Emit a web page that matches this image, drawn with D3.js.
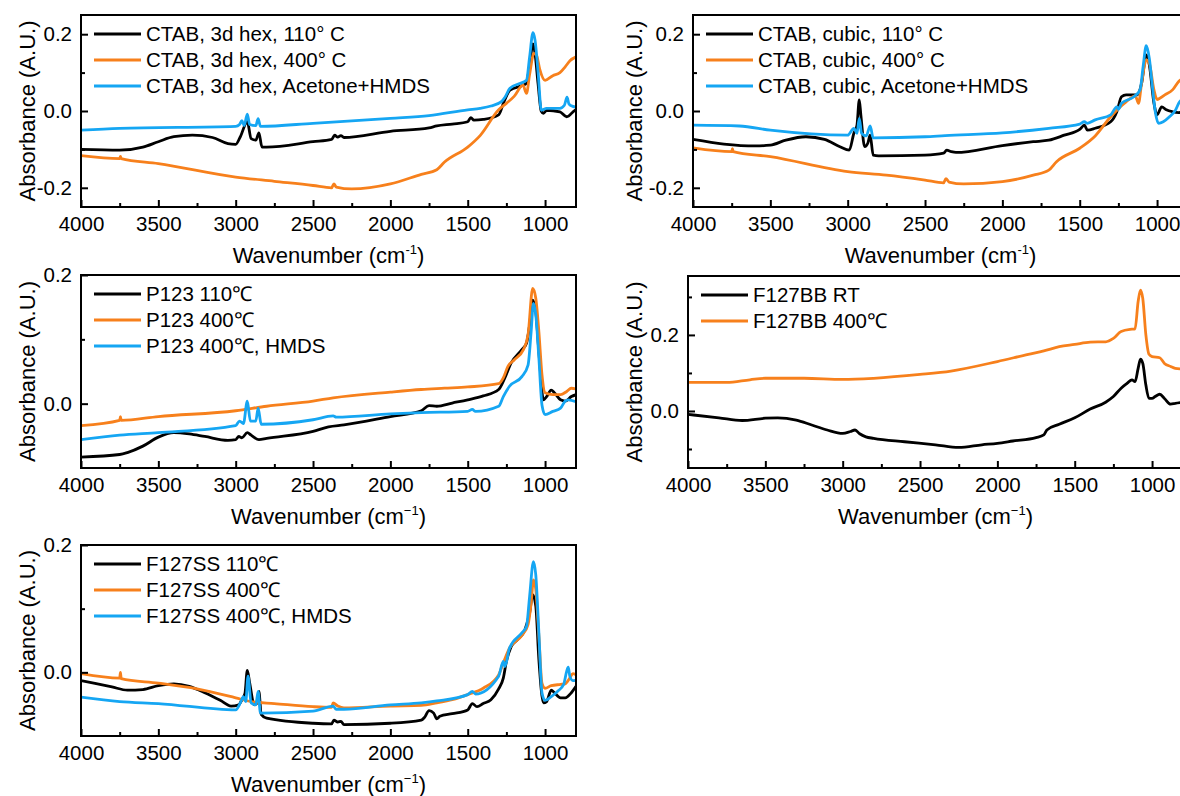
<!DOCTYPE html>
<html lang="en">
  <head>
    <meta charset="UTF-8" />
    <title>FTIR spectra</title>
    <script src="https://d3js.org/d3.v7.min.js"></script>
    <style>
      body { margin: 0; background: #fff; }
      svg { display: block; }
    </style>
  </head>
  <body>
    <svg id="chart" width="1180" height="796"></svg>
    <script>
      // [wavenumber (cm-1), absorbance (A.U.)]
      const hex110 = [[4000,-0.100],[3750,-0.102],[3600,-0.094],[3500,-0.080],[3400,-0.067],[3280,-0.063],[3150,-0.069],[3050,-0.085],[3000,-0.087],[2970,-0.067],[2925,-0.028],[2900,-0.072],[2870,-0.076],[2850,-0.057],[2830,-0.094],[2800,-0.094],[2500,-0.080],[2380,-0.074],[2360,-0.063],[2340,-0.068],[2320,-0.064],[2300,-0.069],[2000,-0.053],[1750,-0.044],[1700,-0.039],[1600,-0.034],[1500,-0.028],[1480,-0.017],[1460,-0.024],[1400,-0.022],[1300,-0.010],[1265,0.025],[1227,0.054],[1143,0.067],[1120,0.072],[1100,0.120],[1078,0.175],[1065,0.150],[1045,0.070],[1025,0.000],[1010,-0.006],[990,0.002],[904,-0.002],[860,-0.015],[806,0.002],[800,0.003]];
      const hex400 = [[4000,-0.116],[3750,-0.124],[3745,-0.118],[3740,-0.124],[3500,-0.137],[3000,-0.172],[2750,-0.183],[2500,-0.194],[2380,-0.200],[2365,-0.190],[2350,-0.198],[2250,-0.203],[2000,-0.190],[1800,-0.165],[1700,-0.153],[1650,-0.133],[1500,-0.094],[1420,-0.064],[1300,0.003],[1250,0.020],[1200,0.038],[1143,0.067],[1120,0.046],[1100,0.095],[1072,0.150],[1055,0.145],[1035,0.110],[1000,0.080],[950,0.092],[904,0.100],[870,0.115],[839,0.131],[800,0.141]];
      const hexHmds = [[4000,-0.050],[3750,-0.045],[3000,-0.040],[2975,-0.035],[2960,-0.025],[2945,-0.038],[2925,-0.008],[2910,-0.035],[2870,-0.038],[2855,-0.020],[2840,-0.040],[2500,-0.032],[2000,-0.019],[1750,-0.012],[1500,0.003],[1420,0.007],[1350,0.013],[1280,0.025],[1259,0.036],[1227,0.059],[1143,0.075],[1120,0.080],[1100,0.140],[1078,0.204],[1065,0.185],[1045,0.100],[1024,0.002],[990,0.007],[904,0.007],[875,0.015],[858,0.036],[845,0.018],[820,0.012],[800,0.010]];

      const cub110 = [[4000,-0.074],[3800,-0.086],[3600,-0.091],[3500,-0.089],[3400,-0.076],[3270,-0.067],[3150,-0.074],[3050,-0.093],[2990,-0.102],[2960,-0.058],[2940,-0.037],[2925,0.029],[2915,-0.010],[2890,-0.093],[2870,-0.084],[2855,-0.063],[2835,-0.115],[2800,-0.117],[2500,-0.115],[2380,-0.110],[2360,-0.102],[2330,-0.106],[2300,-0.108],[2000,-0.090],[1800,-0.080],[1700,-0.076],[1600,-0.063],[1500,-0.048],[1470,-0.037],[1450,-0.050],[1400,-0.045],[1300,-0.028],[1260,-0.002],[1230,0.037],[1200,0.042],[1130,0.042],[1100,0.072],[1070,0.146],[1050,0.120],[1020,0.020],[1000,-0.010],[970,0.011],[940,0.003],[900,-0.002],[860,-0.004],[800,0.000]];
      const cub400 = [[4000,-0.096],[3750,-0.106],[3745,-0.098],[3740,-0.106],[3500,-0.119],[3000,-0.158],[2750,-0.167],[2500,-0.180],[2380,-0.187],[2365,-0.176],[2345,-0.185],[2250,-0.190],[2000,-0.184],[1800,-0.167],[1700,-0.154],[1650,-0.132],[1500,-0.097],[1400,-0.065],[1300,-0.015],[1200,0.024],[1140,0.039],[1120,0.020],[1100,0.072],[1070,0.133],[1050,0.124],[1020,0.055],[1000,0.030],[950,0.042],[900,0.055],[860,0.077],[800,0.090]];
      const cubHmds = [[4000,-0.037],[3700,-0.039],[3500,-0.050],[3000,-0.063],[2960,-0.045],[2940,-0.058],[2925,-0.019],[2910,-0.058],[2880,-0.065],[2855,-0.039],[2835,-0.070],[2500,-0.067],[2370,-0.064],[2000,-0.057],[1700,-0.045],[1500,-0.034],[1470,-0.028],[1450,-0.032],[1400,-0.023],[1300,-0.010],[1260,0.011],[1250,0.004],[1230,0.020],[1150,0.037],[1110,0.055],[1090,0.116],[1070,0.170],[1050,0.137],[1030,0.063],[1010,-0.006],[990,-0.032],[960,-0.028],[920,-0.015],[880,0.003],[860,0.020],[800,0.040]];

      const p123_110 = [[4000,-0.083],[3750,-0.079],[3700,-0.076],[3600,-0.066],[3500,-0.052],[3400,-0.045],[3300,-0.047],[3200,-0.051],[3050,-0.057],[3000,-0.056],[2980,-0.051],[2960,-0.053],[2925,-0.045],[2900,-0.049],[2850,-0.056],[2800,-0.054],[2500,-0.043],[2400,-0.036],[2300,-0.033],[2000,-0.020],[1800,-0.011],[1750,-0.003],[1700,-0.004],[1600,0.001],[1500,0.006],[1400,0.012],[1300,0.022],[1260,0.040],[1220,0.063],[1150,0.084],[1120,0.094],[1100,0.122],[1080,0.161],[1060,0.143],[1040,0.081],[1010,0.006],[990,0.011],[960,0.021],[940,0.017],[900,0.006],[870,0.004],[830,0.011],[800,0.014]];
      const p123_400 = [[4000,-0.034],[3750,-0.026],[3745,-0.020],[3740,-0.026],[3500,-0.020],[3000,-0.011],[2800,-0.004],[2500,0.004],[2370,0.009],[2000,0.018],[1800,0.022],[1650,0.024],[1500,0.026],[1300,0.031],[1270,0.040],[1240,0.058],[1200,0.068],[1140,0.084],[1110,0.107],[1080,0.179],[1060,0.164],[1040,0.112],[1020,0.045],[1000,0.017],[950,0.014],[900,0.014],[860,0.019],[830,0.024],[800,0.023]];
      const p123_hmds = [[4000,-0.056],[3750,-0.049],[3500,-0.045],[3000,-0.034],[2975,-0.027],[2950,-0.031],[2925,0.004],[2905,-0.027],[2870,-0.027],[2855,-0.007],[2835,-0.032],[2500,-0.025],[2370,-0.019],[2350,-0.021],[2000,-0.016],[1800,-0.014],[1500,-0.012],[1470,-0.009],[1450,-0.012],[1300,-0.004],[1270,0.011],[1230,0.027],[1150,0.042],[1110,0.060],[1090,0.112],[1075,0.156],[1060,0.138],[1040,0.071],[1020,-0.002],[1000,-0.017],[950,-0.012],[900,-0.007],[870,0.004],[850,0.006],[800,0.003]];

      const bbRT = [[4000,-0.009],[3800,-0.018],[3650,-0.025],[3500,-0.019],[3420,-0.018],[3300,-0.024],[3200,-0.037],[3100,-0.050],[3000,-0.059],[2950,-0.054],[2920,-0.050],[2890,-0.060],[2850,-0.068],[2800,-0.072],[2600,-0.081],[2400,-0.089],[2250,-0.096],[2100,-0.089],[2000,-0.085],[1900,-0.079],[1750,-0.070],[1700,-0.063],[1680,-0.050],[1600,-0.035],[1500,-0.018],[1400,0.005],[1300,0.023],[1250,0.038],[1200,0.060],[1160,0.073],[1130,0.082],[1110,0.077],[1090,0.112],[1075,0.136],[1060,0.125],[1040,0.068],[1020,0.033],[1000,0.033],[980,0.038],[950,0.044],[920,0.033],[880,0.018],[850,0.020],[800,0.023]];
      const bb400 = [[4000,0.075],[3750,0.075],[3600,0.082],[3500,0.086],[3250,0.086],[3000,0.083],[2800,0.086],[2500,0.096],[2300,0.105],[2000,0.130],[1800,0.149],[1700,0.158],[1600,0.169],[1500,0.175],[1400,0.181],[1300,0.182],[1250,0.191],[1200,0.209],[1130,0.215],[1110,0.216],[1090,0.288],[1075,0.318],[1060,0.296],[1040,0.200],[1020,0.149],[1000,0.143],[950,0.140],[920,0.125],[880,0.117],[850,0.112],[800,0.110]];

      const ss110 = [[4000,-0.013],[3800,-0.023],[3700,-0.028],[3600,-0.027],[3500,-0.021],[3400,-0.018],[3300,-0.022],[3200,-0.032],[3100,-0.044],[3030,-0.053],[2980,-0.051],[2960,-0.043],[2940,-0.033],[2925,0.003],[2910,-0.016],[2880,-0.051],[2860,-0.048],[2850,-0.030],[2835,-0.066],[2800,-0.072],[2500,-0.080],[2380,-0.081],[2365,-0.075],[2340,-0.078],[2320,-0.077],[2300,-0.082],[2000,-0.080],[1800,-0.075],[1780,-0.071],[1750,-0.060],[1720,-0.064],[1700,-0.073],[1680,-0.069],[1600,-0.065],[1500,-0.059],[1470,-0.049],[1440,-0.054],[1400,-0.049],[1350,-0.043],[1300,-0.026],[1270,-0.009],[1250,0.017],[1220,0.040],[1180,0.051],[1130,0.067],[1100,0.093],[1080,0.122],[1060,0.104],[1040,0.020],[1010,-0.048],[990,-0.046],[960,-0.028],[940,-0.032],[900,-0.040],[870,-0.040],[830,-0.032],[800,-0.022]];
      const ss400 = [[4000,-0.002],[3750,-0.009],[3745,0.000],[3740,-0.010],[3500,-0.017],[3250,-0.026],[3000,-0.040],[2900,-0.046],[2750,-0.049],[2500,-0.054],[2380,-0.055],[2370,-0.048],[2340,-0.053],[2300,-0.056],[2000,-0.053],[1800,-0.052],[1700,-0.048],[1600,-0.043],[1500,-0.035],[1400,-0.025],[1300,-0.004],[1270,0.015],[1230,0.038],[1150,0.058],[1110,0.075],[1090,0.109],[1075,0.145],[1060,0.130],[1040,0.057],[1020,-0.017],[1000,-0.025],[960,-0.021],[900,-0.019],[870,-0.018],[840,-0.009],[820,-0.002],[800,-0.004]];
      const ssHmds = [[4000,-0.039],[3750,-0.046],[3500,-0.049],[3000,-0.059],[2970,-0.048],[2950,-0.038],[2935,-0.046],[2920,-0.006],[2900,-0.048],[2870,-0.051],[2855,-0.030],[2840,-0.064],[2500,-0.061],[2370,-0.053],[2350,-0.058],[2300,-0.058],[2000,-0.051],[1800,-0.048],[1700,-0.045],[1500,-0.035],[1470,-0.030],[1450,-0.034],[1300,-0.006],[1270,0.017],[1260,0.009],[1230,0.038],[1150,0.062],[1120,0.072],[1100,0.119],[1075,0.174],[1060,0.153],[1040,0.062],[1020,-0.032],[1000,-0.044],[960,-0.038],[920,-0.030],[880,-0.019],[860,0.002],[850,0.008],[840,-0.006],[820,-0.013],[800,-0.012]];

      const hexLabels = ["CTAB, 3d hex, 110° C", "CTAB, 3d hex, 400° C", "CTAB, 3d hex, Acetone+HMDS"];
      const cubLabels = ["CTAB, cubic, 110° C", "CTAB, cubic, 400° C", "CTAB, cubic, Acetone+HMDS"];
      const p123Labels = ["P123 110\u2103", "P123 400\u2103", "P123 400\u2103, HMDS"];
      const bbLabels = ["F127BB RT", "F127BB 400\u2103"];
      const ssLabels = ["F127SS 110\u2103", "F127SS 400\u2103", "F127SS 400\u2103, HMDS"];

      const xDomain = [4000, 800];
      const xMajor = [4000, 3500, 3000, 2500, 2000, 1500, 1000];
      const xMinor = [3750, 3250, 2750, 2250, 1750, 1250];

      const font = '"Liberation Sans", Arial, Helvetica, sans-serif';
      const black = "#000000", orange = "#f7801c", blue = "#15a6f3";

      const panels = [
        { x: 81, y: 15, w: 495, h: 192, yDomain: [-0.25, 0.25], yMajor: [-0.2, 0, 0.2], yMinor: [-0.1, 0.1],
          titleX: 27, sup: "-1", series: [hex110, hex400, hexHmds], labels: hexLabels },
        { x: 693, y: 15, w: 495, h: 192, yDomain: [-0.25, 0.25], yMajor: [-0.2, 0, 0.2], yMinor: [-0.1, 0.1],
          titleX: 634, sup: "-1", series: [cub110, cub400, cubHmds], labels: cubLabels },
        { x: 81, y: 275, w: 495, h: 193, yDomain: [-0.1, 0.2], yMajor: [0, 0.2], yMinor: [0.1],
          titleX: 27, sup: "\u22121", series: [p123_110, p123_400, p123_hmds], labels: p123Labels },
        { x: 688, y: 276, w: 495, h: 192, yDomain: [-0.15, 0.355], yMajor: [0, 0.2], yMinor: [-0.1, 0.1, 0.3],
          titleX: 634, sup: "\u22121", series: [bbRT, bb400], labels: bbLabels },
        { x: 81, y: 545, w: 495, h: 191, yDomain: [-0.1, 0.2], yMajor: [0, 0.2], yMinor: [0.1],
          titleX: 27, sup: "\u22121", series: [ss110, ss400, ssHmds], labels: ssLabels },
      ];
      const colors = [black, orange, blue];

      const svg = d3.select("#chart");

      panels.forEach((p, i) => {
        const g = svg.append("g").attr("transform", `translate(${p.x},${p.y})`);
        const x = d3.scaleLinear().domain(xDomain).range([0, p.w]);
        const y = d3.scaleLinear().domain(p.yDomain).range([p.h, 0]);

        g.append("clipPath").attr("id", "clip" + i)
          .append("rect").attr("width", p.w).attr("height", p.h);

        const line = d3.line()
          .x((d) => x(d[0]))
          .y((d) => y(d[1]))
          .curve(d3.curveMonotoneX);

        const plot = g.append("g").attr("clip-path", `url(#clip${i})`);
        p.series.forEach((s, k) => {
          plot.append("path")
            .datum(s)
            .attr("fill", "none")
            .attr("stroke", colors[k])
            .attr("stroke-width", 2.8)
            .attr("stroke-linejoin", "round")
            .attr("d", line);
        });

        // axes, ticks pointing inward
        g.append("g").attr("transform", `translate(0,${p.h})`)
          .call(d3.axisBottom(x).tickValues(xMajor).tickSize(-7).tickPadding(9).tickFormat(d3.format("d")));
        g.append("g").attr("transform", `translate(0,${p.h})`)
          .call(d3.axisBottom(x).tickValues(xMinor).tickSize(-4).tickFormat(""));
        g.append("g")
          .call(d3.axisLeft(y).tickValues(p.yMajor).tickSize(-7).tickPadding(9).tickFormat((d) => d.toFixed(1)));
        g.append("g")
          .call(d3.axisLeft(y).tickValues(p.yMinor).tickSize(-4).tickFormat(""));

        g.selectAll(".domain").remove();
        g.selectAll(".tick line").attr("stroke", "#000").attr("stroke-width", 2);
        g.selectAll(".tick text").attr("fill", "#000").style("font-family", font).style("font-size", "20.5px");

        g.append("rect")
          .attr("width", p.w).attr("height", p.h)
          .attr("fill", "none").attr("stroke", "#000").attr("stroke-width", 2);

        // legend
        p.labels.forEach((lab, k) => {
          const ly = [19, 45, 71][k];
          g.append("line")
            .attr("x1", 13).attr("x2", 60).attr("y1", ly).attr("y2", ly)
            .attr("stroke", colors[k]).attr("stroke-width", 2.8);
          g.append("text")
            .attr("x", 65).attr("y", ly).attr("dy", "0.35em")
            .style("font-family", font).style("font-size", "20.5px")
            .text(lab);
        });

        // axis titles
        const xt = g.append("text")
          .attr("x", p.w / 2).attr("y", p.h + 56)
          .attr("text-anchor", "middle")
          .style("font-family", font).style("font-size", "22px");
        xt.append("tspan").text("Wavenumber (cm");
        xt.append("tspan").attr("dy", -9).style("font-size", "13px").text(p.sup);
        xt.append("tspan").attr("dy", 9).text(")");

        svg.append("text")
          .attr("transform", `translate(${p.titleX},${p.y + p.h / 2}) rotate(-90)`)
          .attr("text-anchor", "middle").attr("dy", "0.35em")
          .style("font-family", font).style("font-size", "22px")
          .text("Absorbance (A.U.)");
      });
    </script>
  </body>
</html>
